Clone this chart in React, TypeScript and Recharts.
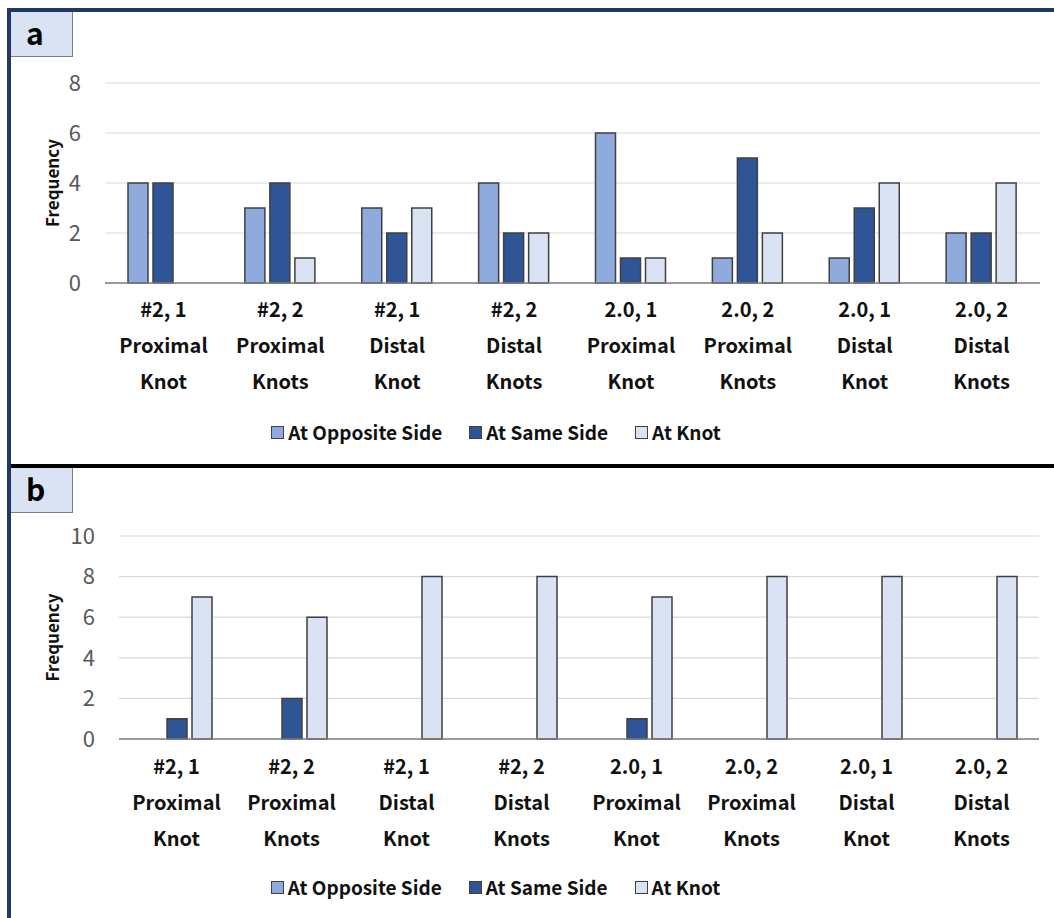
import { Bar, BarChart, CartesianGrid, Label, Legend, XAxis, YAxis } from 'recharts'

const FONT = "'Noto Sans CJK JP', 'Noto Sans', sans-serif"

// three-line group labels under each cluster
const sizeLabels = ['#2, 1', '#2, 2', '#2, 1', '#2, 2', '2.0, 1', '2.0, 2', '2.0, 1', '2.0, 2']
const siteLabels = ['Proximal', 'Proximal', 'Distal', 'Distal', 'Proximal', 'Proximal', 'Distal', 'Distal']
const knotLabels = ['Knot', 'Knots', 'Knot', 'Knots', 'Knot', 'Knots', 'Knot', 'Knots']

// panel a
const oppositeA = [4, 3, 3, 4, 6, 1, 1, 2]
const sameA = [4, 4, 2, 2, 1, 5, 3, 2]
const knotA = [0, 1, 3, 2, 1, 2, 4, 4]
const ticksA = [0, 2, 4, 6, 8]

// panel b
const oppositeB = [0, 0, 0, 0, 0, 0, 0, 0]
const sameB = [1, 2, 0, 0, 1, 0, 0, 0]
const knotB = [7, 6, 8, 8, 7, 8, 8, 8]
const ticksB = [0, 2, 4, 6, 8, 10]

const SERIES = [
  { key: 'opposite', name: 'At Opposite Side', color: '#8faadc' },
  { key: 'same', name: 'At Same Side', color: '#2f5597' },
  { key: 'knot', name: 'At Knot', color: '#dae3f3' },
]

const NAVY = '#1f3864'

function buildRows(opposite: number[], same: number[], knot: number[]) {
  return sizeLabels.map((_, i) => ({
    key: String(i),
    opposite: opposite[i],
    same: same[i],
    knot: knot[i],
  }))
}

function makeGroupTick(firstDy: number) {
  return function GroupTick({ x, y, payload }: any) {
    const i = Number(payload.value)
    const lines = [sizeLabels[i], siteLabels[i], knotLabels[i]]
    return (
      <text x={x} y={y} textAnchor="middle" fontFamily={FONT} fontSize={20} fontWeight={700} fill="#111">
        {lines.map((t, k) => (
          <tspan key={k} x={x} dy={k === 0 ? firstDy : 36}>
            {t}
          </tspan>
        ))}
      </text>
    )
  }
}

function FreqLabel({ viewBox }: any) {
  const cy = viewBox.y + viewBox.height / 2
  return (
    <text
      x={51}
      y={cy}
      transform={`rotate(-90 51 ${cy})`}
      textAnchor="middle"
      dominantBaseline="central"
      fontFamily={FONT}
      fontSize={17}
      fontWeight={700}
      fill="#111"
    >
      Frequency
    </text>
  )
}

function LegendRow() {
  return (
    <div
      style={{
        height: 30,
        display: 'flex',
        justifyContent: 'center',
        alignItems: 'center',
        gap: 27,
        paddingLeft: 2,
        paddingRight: 50,
        fontFamily: FONT,
        fontSize: 19,
        fontWeight: 700,
        color: '#111',
      }}
    >
      {SERIES.map((s) => (
        <div key={s.key} style={{ display: 'flex', alignItems: 'center', gap: 4 }}>
          <svg width={13} height={13} style={{ display: 'block', flexShrink: 0 }}>
            <rect x={0.5} y={0.5} width={12} height={12} fill={s.color} stroke="#404040" strokeWidth={1} />
          </svg>
          <span style={{ lineHeight: '30px' }}>{s.name}</span>
        </div>
      ))}
    </div>
  )
}

type PanelProps = {
  rows: ReturnType<typeof buildRows>
  ticks: number[]
  height: number
  top: number
  axisWidth: number
  axisHeight: number
  right: number
  bottom: number
  firstDy: number
}

function Panel({ rows, ticks, height, top, axisWidth, axisHeight, right, bottom, firstDy }: PanelProps) {
  return (
    <BarChart
      width={1054}
      height={height}
      data={rows}
      barGap={5}
      margin={{ top, right, left: 0, bottom }}
    >
      <CartesianGrid vertical={false} stroke="#d9d9d9" strokeWidth={1.2} />
      <XAxis
        dataKey="key"
        height={axisHeight}
        tickLine={false}
        tickSize={0}
        tickMargin={0}
        axisLine={{ stroke: '#7f7f7f', strokeWidth: 1.5 }}
        tick={makeGroupTick(firstDy)}
        interval={0}
      />
      <YAxis
        width={axisWidth}
        domain={[0, ticks[ticks.length - 1]]}
        ticks={ticks}
        axisLine={false}
        tickLine={false}
        tickSize={0}
        tickMargin={24}
        tick={{ fontSize: 22, fill: '#595959', fontFamily: FONT }}
      >
        <Label content={FreqLabel} />
      </YAxis>
      <Legend verticalAlign="bottom" height={30} content={() => <LegendRow />} />
      {SERIES.map((s) => (
        <Bar
          key={s.key}
          dataKey={s.key}
          name={s.name}
          fill={s.color}
          stroke="#404040"
          strokeWidth={1.5}
          barSize={20}
          isAnimationActive={false}
        />
      ))}
    </BarChart>
  )
}

function PanelTag({ text, top }: { text: string; top: number }) {
  return (
    <div
      style={{
        position: 'absolute',
        left: 11,
        top,
        width: 62,
        height: 45,
        background: '#dae3f3',
        borderRight: '1px solid #7f7f7f',
        borderBottom: '1px solid #7f7f7f',
        fontFamily: FONT,
        fontSize: 30,
        fontWeight: 700,
        color: '#000',
        lineHeight: '40px',
        paddingLeft: 15,
        boxSizing: 'border-box',
      }}
    >
      {text}
    </div>
  )
}

export default function App() {
  const rowsA = buildRows(oppositeA, sameA, knotA)
  const rowsB = buildRows(oppositeB, sameB, knotB)

  return (
    <div style={{ position: 'absolute', left: 0, top: 0, width: 1054, height: 918, background: '#fff', overflow: 'hidden' }}>
      <div style={{ position: 'absolute', left: 0, top: 0 }}>
        <Panel
          rows={rowsA}
          ticks={ticksA}
          height={460}
          top={83}
          axisWidth={105}
          axisHeight={134}
          right={14}
          bottom={13}
          firstDy={34}
        />
      </div>
      <div style={{ position: 'absolute', left: 0, top: 460 }}>
        <Panel
          rows={rowsB}
          ticks={ticksB}
          height={458}
          top={76}
          axisWidth={119}
          axisHeight={133}
          right={15}
          bottom={16}
          firstDy={35}
        />
      </div>

      {/* frame */}
      <div style={{ position: 'absolute', left: 7, top: 8, width: 4, height: 910, background: NAVY }} />
      <div style={{ position: 'absolute', left: 7, top: 8, width: 1047, height: 4, background: NAVY }} />
      <div style={{ position: 'absolute', left: 11, top: 464, width: 1043, height: 4, background: '#000' }} />

      <PanelTag text="a" top={12} />
      <PanelTag text="b" top={468} />
    </div>
  )
}
